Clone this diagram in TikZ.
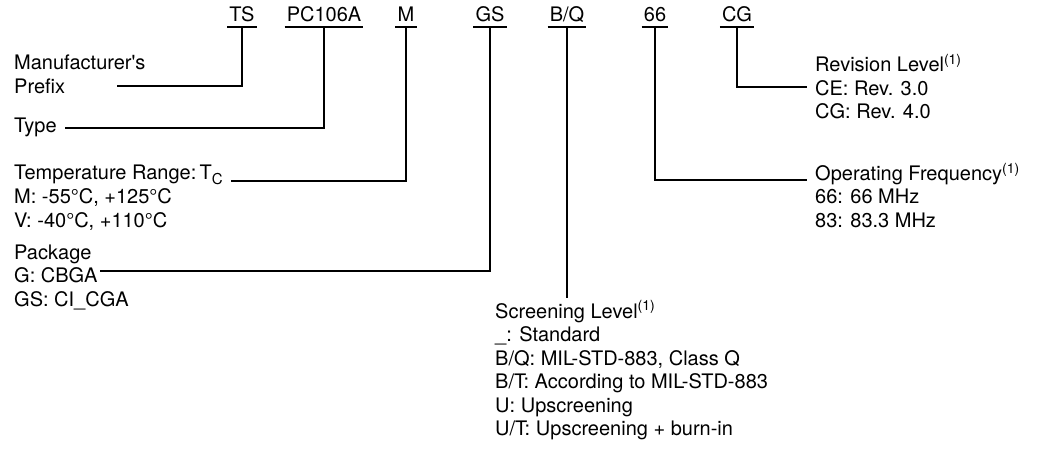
\documentclass[tikz,border=0pt]{standalone}
\usepackage{fontspec}
\setmainfont{TeX Gyre Heros}
\newcommand\supone{\raisebox{0.75ex}{\fontsize{14}{14}\selectfont(1)}}
\newcommand\subc{\raisebox{-0.45ex}{\fontsize{15}{15}\selectfont C}}
\begin{document}
\begin{tikzpicture}[x=1pt,y=-1pt,
  txt/.style={anchor=base west, inner sep=0pt, font=\fontsize{20}{23.5}\selectfont},
  code/.style={anchor=base, inner sep=0pt, font=\fontsize{20}{23.5}\selectfont},
  uline/.style={line width=2.2pt},
  conn/.style={line width=2.2pt}]
\useasboundingbox (0,0) rectangle (1038,449);
% codes
\node[code] (ts) at (242,22) {TS};
\node[code] (pc) at (324,22) {PC106A};
\node[code] (m) at (406,22) {M};
\node[code] (gs) at (490,22) {GS};
\node[code] (bq) at (567,22) {B/Q};
\node[code] (f66) at (655,22) {66};
\node[code] (cg) at (737,22) {CG};
\foreach \n in {ts,pc,m,gs,bq,f66,cg}
  \draw[uline] ([xshift=-2pt,yshift=-5pt]\n.base west) -- ([xshift=2pt,yshift=-5pt]\n.base east);
% left labels
\node[txt] (mfr1) at (14,70) {Manufacturer\textquotesingle s};
\node[txt] (mfr2) at (14,94) {Prefix};
\node[txt] (type) at (14,133) {Type};
\node[txt] (tmp1) at (14,180) {Temperature Range:\,T\subc};
\node[txt] (tmp2) at (14,203.5) {M: -55°C, +125°C};
\node[txt] (tmp3) at (14,227) {V: -40°C, +110°C};
\node[txt] (pkg1) at (14,259) {Package};
\node[txt] (pkg2) at (14,282) {G: CBGA};
\node[txt] (pkg3) at (14,306) {GS: CI\_CGA};
% right labels
\node[txt] (rev1) at (815,72) {Revision Level\supone};
\node[txt] (rev2) at (815,96) {CE: Rev. 3.0};
\node[txt] (rev3) at (815,119) {CG: Rev. 4.0};
\node[txt] (frq1) at (815,181) {Operating Frequency\supone};
\node[txt] (frq2) at (815,204) {66: 66 MHz};
\node[txt] (frq3) at (815,227) {83: 83.3 MHz};
% screening
\node[txt] (scr1) at (495,318) {Screening Level\supone};
\node[txt] (scr2) at (495,341.5) {\_: Standard};
\node[txt] (scr3) at (495,365) {B/Q: MIL-STD-883, Class Q};
\node[txt] (scr4) at (495,388.5) {B/T: According to MIL-STD-883};
\node[txt] (scr5) at (495,412) {U: Upscreening};
\node[txt] (scr6) at (495,435.5) {U/T: Upscreening + burn-in};
% connector ends
\coordinate (emfr) at (117,86);
\coordinate (etype) at (65,128);
\coordinate (etmp) at (231,181);
\coordinate (epkg) at (100,271);
\coordinate (erev) at (807,87);
\coordinate (efrq) at (807,180);
\coordinate (escr) at (567,298);
\draw[conn] ([yshift=-5pt]ts.base) |- (emfr);
\draw[conn] ([yshift=-5pt]pc.base) |- (etype);
\draw[conn] ([yshift=-5pt]m.base) |- (etmp);
\draw[conn] ([yshift=-5pt]gs.base) |- (epkg);
\draw[conn] ([yshift=-5pt]cg.base) |- (erev);
\draw[conn] ([yshift=-5pt]f66.base) |- (efrq);
\draw[conn] ([yshift=-5pt]bq.base) -- (escr);
\end{tikzpicture}
\end{document}
